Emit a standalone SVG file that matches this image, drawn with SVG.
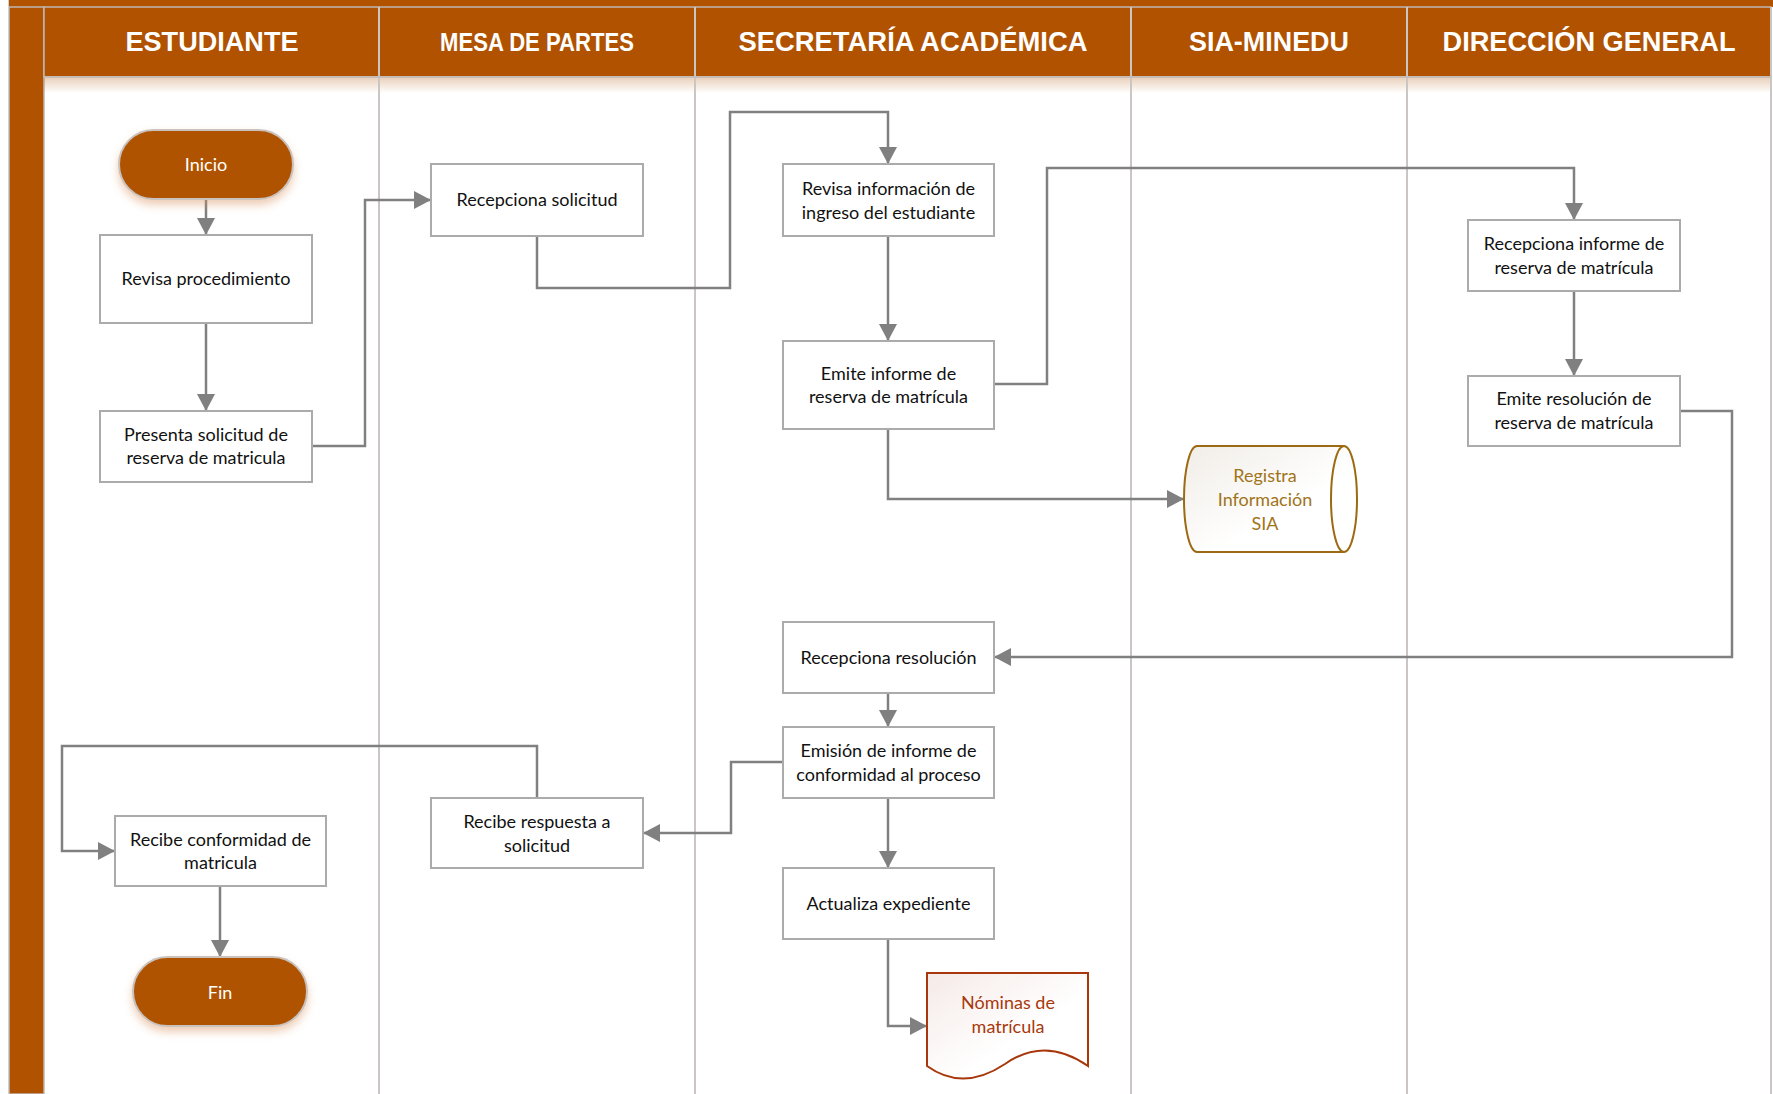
<svg xmlns="http://www.w3.org/2000/svg" width="1773" height="1094" viewBox="0 0 1773 1094">
<defs>
<style>
.hdr{font-family:"Liberation Sans",Arial,sans-serif;font-weight:bold;fill:#ffffff;text-anchor:middle}
.box{fill:#ffffff;stroke:#ababab;stroke-width:2}
.t{font-family:Lato,"Open Sans",sans-serif;font-size:18px;fill:#111111;text-anchor:middle}
.term{fill:#b05200;stroke:#c9c2bd;stroke-width:2}
.tw{font-family:Lato,"Open Sans",sans-serif;font-size:18px;fill:#ffffff;text-anchor:middle}
.lane{stroke:#cbc6c3;stroke-width:2;fill:none}
.conn{fill:none;stroke:#808080;stroke-width:2.5}
</style>
<marker id="arr" viewBox="0 0 10 10" refX="10" refY="5" markerWidth="17" markerHeight="18" markerUnits="userSpaceOnUse" orient="auto" preserveAspectRatio="none">
<path d="M0,0 L10,5 L0,10 z" fill="#808080"/>
</marker>
<linearGradient id="hshadow" x1="0" y1="0" x2="0" y2="1">
<stop offset="0" stop-color="#b05200" stop-opacity="0.28"/>
<stop offset="1" stop-color="#b05200" stop-opacity="0"/>
</linearGradient>
<linearGradient id="gold" x1="0" y1="0" x2="1" y2="1">
<stop offset="0" stop-color="#f1ede7"/>
<stop offset="0.6" stop-color="#ffffff"/>
</linearGradient>
<linearGradient id="rose" x1="0" y1="0" x2="1" y2="1">
<stop offset="0" stop-color="#f5eae7"/>
<stop offset="0.6" stop-color="#ffffff"/>
</linearGradient>
<filter id="sh" x="-20%" y="-20%" width="140%" height="160%">
<feDropShadow dx="0" dy="5" stdDeviation="4" flood-color="#d9905a" flood-opacity="0.45"/>
</filter>
</defs>

<g id="background">
<rect x="0" y="0" width="1773" height="1094" fill="#ffffff"/>
<rect x="9" y="0" width="1764" height="7" fill="#b05200"/>
<rect x="9" y="7" width="35" height="1087" fill="#b05200" stroke="#c0b8b3" stroke-width="1.5"/>
<rect x="44" y="77" width="1727" height="16" fill="url(#hshadow)"/>
<line x1="8.5" y1="0" x2="8.5" y2="1094" stroke="#d0d0d0" stroke-width="1"/>
</g>

<g id="lanes">
<rect x="44" y="7" width="1727" height="70" fill="#b05200" stroke="#c0b8b3" stroke-width="1.5"/>
<line class="lane" x1="379" y1="7" x2="379" y2="1094"/>
<line class="lane" x1="695" y1="7" x2="695" y2="1094"/>
<line class="lane" x1="1131" y1="7" x2="1131" y2="1094"/>
<line class="lane" x1="1407" y1="7" x2="1407" y2="1094"/>
<line class="lane" x1="1771" y1="7" x2="1771" y2="1094"/>
<line x1="44" y1="77" x2="1771" y2="77" stroke="#c6bdb7" stroke-width="2"/>
<text class="hdr" x="212" y="51" font-size="28" textLength="173" lengthAdjust="spacingAndGlyphs">ESTUDIANTE</text>
<text class="hdr" x="537" y="51" font-size="25" textLength="194" lengthAdjust="spacingAndGlyphs">MESA DE PARTES</text>
<text class="hdr" x="913" y="51" font-size="28" textLength="349" lengthAdjust="spacingAndGlyphs">SECRETARÍA ACADÉMICA</text>
<text class="hdr" x="1269" y="51" font-size="28" textLength="160" lengthAdjust="spacingAndGlyphs">SIA-MINEDU</text>
<text class="hdr" x="1589" y="51" font-size="28" textLength="293" lengthAdjust="spacingAndGlyphs">DIRECCIÓN GENERAL</text>
</g>

<g id="connectors">
<path class="conn" marker-end="url(#arr)" d="M206,199 V235"/>
<path class="conn" marker-end="url(#arr)" d="M206,323 V411"/>
<path class="conn" marker-end="url(#arr)" d="M312,446 H365 V200 H431"/>
<path class="conn" marker-end="url(#arr)" d="M537,236 V288 H730 V112 H888 V164"/>
<path class="conn" marker-end="url(#arr)" d="M888,236 V341"/>
<path class="conn" marker-end="url(#arr)" d="M994,384 H1047 V168 H1574 V220"/>
<path class="conn" marker-end="url(#arr)" d="M1574,291 V376"/>
<path class="conn" marker-end="url(#arr)" d="M888,429 V499 H1184"/>
<path class="conn" marker-end="url(#arr)" d="M1680,411 H1732 V657 H994"/>
<path class="conn" marker-end="url(#arr)" d="M888,693 V727"/>
<path class="conn" marker-end="url(#arr)" d="M888,798 V868"/>
<path class="conn" marker-end="url(#arr)" d="M888,939 V1026 H927"/>
<path class="conn" marker-end="url(#arr)" d="M783,762 H731 V833 H643"/>
<path class="conn" marker-end="url(#arr)" d="M537,798 V746 H62 V851 H115"/>
<path class="conn" marker-end="url(#arr)" d="M220,886 V957"/>
</g>

<g id="inicio">
<rect class="term" x="119" y="130" width="174" height="69" rx="34.5" filter="url(#sh)"/>
<text class="tw" x="206" y="171">Inicio</text>
</g>
<g id="revisa-procedimiento">
<rect class="box" x="100" y="235" width="212" height="88"/>
<text class="t" x="206" y="285">Revisa procedimiento</text>
</g>
<g id="presenta-solicitud">
<rect class="box" x="100" y="411" width="212" height="71"/>
<text class="t" x="206" y="441">Presenta solicitud de</text>
<text class="t" x="206" y="464">reserva de matricula</text>
</g>
<g id="recepciona-solicitud">
<rect class="box" x="431" y="164" width="212" height="72"/>
<text class="t" x="537" y="206">Recepciona solicitud</text>
</g>
<g id="revisa-informacion">
<rect class="box" x="783" y="164" width="211" height="72"/>
<text class="t" x="888.5" y="195">Revisa información de</text>
<text class="t" x="888.5" y="219">ingreso del estudiante</text>
</g>
<g id="emite-informe">
<rect class="box" x="783" y="341" width="211" height="88"/>
<text class="t" x="888.5" y="380">Emite informe de</text>
<text class="t" x="888.5" y="403">reserva de matrícula</text>
</g>
<g id="recepciona-informe">
<rect class="box" x="1468" y="220" width="212" height="71"/>
<text class="t" x="1574" y="250">Recepciona informe de</text>
<text class="t" x="1574" y="274">reserva de matrícula</text>
</g>
<g id="emite-resolucion">
<rect class="box" x="1468" y="376" width="212" height="70"/>
<text class="t" x="1574" y="405">Emite resolución de</text>
<text class="t" x="1574" y="429">reserva de matrícula</text>
</g>
<g id="registra-sia">
<path d="M1197,446 H1344 A13,53 0 0 1 1344,552 H1197 A13,53 0 0 1 1197,446 Z" fill="url(#gold)" stroke="#9c6a12" stroke-width="2"/>
<path d="M1344,552 A13,53 0 0 1 1344,446" fill="none" stroke="#9c6a12" stroke-width="2"/>
<text class="t" x="1265" y="482" style="fill:#a07418">Registra</text>
<text class="t" x="1265" y="506" style="fill:#a07418">Información</text>
<text class="t" x="1265" y="530" style="fill:#a07418">SIA</text>
</g>
<g id="recepciona-resolucion">
<rect class="box" x="783" y="622" width="211" height="71"/>
<text class="t" x="888.5" y="664">Recepciona resolución</text>
</g>
<g id="emision-informe">
<rect class="box" x="783" y="727" width="211" height="71"/>
<text class="t" x="888.5" y="757">Emisión de informe de</text>
<text class="t" x="888.5" y="781">conformidad al proceso</text>
</g>
<g id="actualiza-expediente">
<rect class="box" x="783" y="868" width="211" height="71"/>
<text class="t" x="888.5" y="910">Actualiza expediente</text>
</g>
<g id="nominas">
<path d="M927,973 H1088 V1066 Q1045,1036 1005,1064 Q963,1092 927,1066 Z" fill="url(#rose)" stroke="#a8380c" stroke-width="2"/>
<text class="t" x="1008" y="1009" style="fill:#a8380c">Nóminas de</text>
<text class="t" x="1008" y="1033" style="fill:#a8380c">matrícula</text>
</g>
<g id="recibe-respuesta">
<rect class="box" x="431" y="798" width="212" height="70"/>
<text class="t" x="537" y="828">Recibe respuesta a</text>
<text class="t" x="537" y="852">solicitud</text>
</g>
<g id="recibe-conformidad">
<rect class="box" x="115" y="816" width="211" height="70"/>
<text class="t" x="220.5" y="846">Recibe conformidad de</text>
<text class="t" x="220.5" y="869">matricula</text>
</g>
<g id="fin">
<rect class="term" x="133" y="957" width="174" height="69" rx="34.5" filter="url(#sh)"/>
<text class="tw" x="220" y="999">Fin</text>
</g>
</svg>
